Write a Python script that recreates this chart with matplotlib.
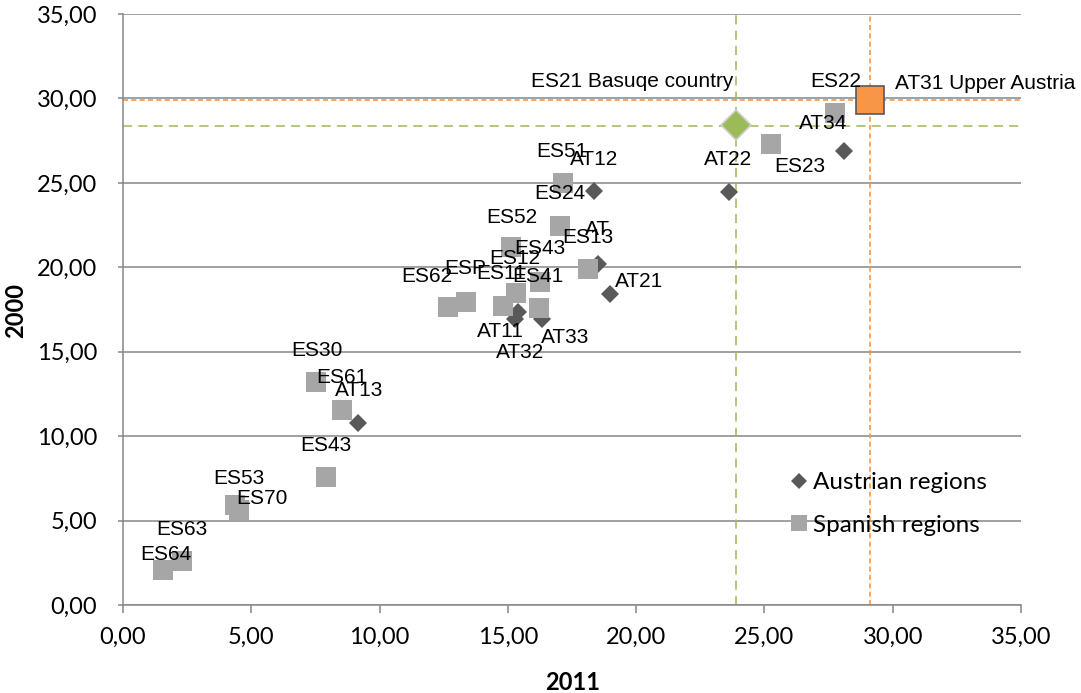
import matplotlib
matplotlib.use("Agg")
import matplotlib.pyplot as plt
from matplotlib.ticker import FuncFormatter, MultipleLocator
from matplotlib.lines import Line2D

# ---------------- data ----------------
at_names = ["AT12", "AT", "AT21", "AT11", "AT32", "AT33", "AT13", "AT22", "AT34"]
at_2011 = [18.36, 18.51, 19.00, 15.40, 15.27, 16.33, 9.17, 23.60, 28.09]
at_2000 = [24.53, 20.18, 18.42, 17.38, 16.93, 16.94, 10.76, 24.48, 26.90]

es_names = ["ES51", "ES24", "ES52", "ES13", "ES43", "ES12", "ESP", "ES62", "ES11",
            "ES41", "ES30", "ES61", "ES43", "ES53", "ES70", "ES63", "ES64", "ES22", "ES23"]
es_2011 = [17.13, 17.02, 15.14, 18.12, 16.27, 15.31, 13.36, 12.67, 14.81,
           16.20, 7.52, 8.54, 7.90, 4.37, 4.52, 2.29, 1.55, 27.77, 25.24]
es_2000 = [24.98, 22.47, 21.19, 19.89, 19.15, 18.50, 17.97, 17.67, 17.73,
           17.58, 13.19, 11.55, 7.56, 5.92, 5.63, 2.62, 2.07, 29.13, 27.31]

basque_name = "ES21 Basuqe country"
basque_2011 = 23.90
basque_2000 = 28.45

upper_name = "AT31 Upper Austria"
upper_2011 = 29.12
upper_2000 = 29.92

x_label = "2011"
y_label = "2000"
legend_labels = ["Austrian regions", "Spanish regions"]

# ------------- layout (label text centres, data coords) -------------
at_label_pos = [(18.35, 26.40), (18.51, 22.26), (20.11, 19.15), (14.71, 16.19),
                (15.49, 14.95), (17.25, 15.86), (9.19, 12.70), (23.60, 26.40),
                (27.27, 28.50)]
es_label_pos = [(17.09, 26.85), (17.02, 24.39), (15.14, 22.97), (18.12, 21.78),
                (16.24, 21.09), (15.27, 20.54), (13.32, 19.95), (11.83, 19.45),
                (14.75, 19.65), (16.18, 19.45), (7.55, 15.07), (8.52, 13.49),
                (7.91, 9.42), (4.52, 7.51), (5.43, 6.28), (2.29, 4.50),
                (1.68, 3.00), (27.77, 31.00), (26.39, 25.97)]
basque_label_pos = (19.84, 31.00)
upper_label_pos = (30.07, 30.86)

# ---------------- style ----------------
C_AT = "#595959"
C_ES = "#A6A6A6"
C_OR = "#F79646"
C_GR = "#9BBB59"
C_GRID = "#868686"
TICK_FONT = ["Lato", "DejaVu Sans"]
LBL_FONT = ["Liberation Sans", "DejaVu Sans"]

W, H = 1081, 693
fig = plt.figure(figsize=(W / 100, H / 100), dpi=100)
L, R, B, T = 123, 1021, 605, 14
ax = fig.add_axes([L / W, 1 - B / H, (R - L) / W, (B - T) / H])

ax.set_xlim(0, 35)
ax.set_ylim(0, 35)
ax.xaxis.set_major_locator(MultipleLocator(5))
ax.yaxis.set_major_locator(MultipleLocator(5))
fmt = FuncFormatter(lambda v, p: f"{v:.2f}".replace(".", ","))
ax.xaxis.set_major_formatter(fmt)
ax.yaxis.set_major_formatter(fmt)

ax.grid(axis="y", color=C_GRID, linewidth=1.1, zorder=0)
ax.set_axisbelow(True)
for s in ["top", "right"]:
    ax.spines[s].set_visible(False)
for s in ["left", "bottom"]:
    ax.spines[s].set_color(C_GRID)
    ax.spines[s].set_linewidth(1.1)

ax.tick_params(axis="x", direction="out", length=6, width=1.1, color=C_GRID,
               pad=10, labelsize=17)
ax.tick_params(axis="y", direction="out", length=3.6, width=1.1, color=C_GRID,
               pad=15, labelsize=17)
for lab in ax.get_xticklabels() + ax.get_yticklabels():
    lab.set_family(TICK_FONT)

# reference lines
ax.axhline(upper_2000, color=C_OR, linestyle=(0, (3, 2)), linewidth=1.2, zorder=2)
ax.axvline(upper_2011, color=C_OR, linestyle=(0, (3, 2)), linewidth=1.2, zorder=2)
ax.axhline(basque_2000 - 0.1, color=C_GR, linestyle=(0, (6, 4)), linewidth=1.1, zorder=2)
ax.axvline(basque_2011, color=C_GR, linestyle=(0, (6, 4)), linewidth=1.1, zorder=2)

# points
ax.plot(at_2011, at_2000, linestyle="none", marker="D", markersize=9.2,
        color=C_AT, markeredgewidth=0, zorder=3)
ax.plot(es_2011, es_2000, linestyle="none", marker="s", markersize=14.5,
        color=C_ES, markeredgewidth=0, zorder=4)
ax.plot([basque_2011], [basque_2000], linestyle="none", marker="D", markersize=15,
        color=C_GR, markeredgecolor="#D0D0D0", markeredgewidth=1.2, zorder=5)
ax.plot([upper_2011], [upper_2000], linestyle="none", marker="s", markersize=20,
        color=C_OR, markeredgecolor="#595959", markeredgewidth=1.2, zorder=5)

# labels
for name, (tx, ty) in zip(at_names, at_label_pos):
    ax.text(tx, ty, name, ha="center", va="center", fontsize=15, family=LBL_FONT, zorder=6)
for name, (tx, ty) in zip(es_names, es_label_pos):
    ax.text(tx, ty, name, ha="center", va="center", fontsize=15, family=LBL_FONT, zorder=6)
ax.text(*basque_label_pos, basque_name, ha="center", va="center", fontsize=15,
        family=LBL_FONT, zorder=6)
ax.text(*upper_label_pos, upper_name, ha="left", va="center", fontsize=15,
        family=LBL_FONT, zorder=6, clip_on=False)

# axis titles
ax.set_xlabel(x_label, fontsize=17, fontweight="bold", family=TICK_FONT, va="center")
ax.set_ylabel(y_label, fontsize=17, fontweight="bold", family=TICK_FONT, va="center")
ax.xaxis.set_label_coords((572.7 - L) / (R - L), (B - 683) / (B - T))
ax.yaxis.set_label_coords((15.7 - L) / (R - L), (B - 310) / (B - T))

# legend
handles = [Line2D([], [], linestyle="none", marker="D", markersize=8, color=C_AT,
                  markeredgewidth=0),
           Line2D([], [], linestyle="none", marker="s", markersize=12, color=C_ES,
                  markeredgewidth=0)]
leg = ax.legend(handles, legend_labels, frameon=False, loc="upper left",
                bbox_to_anchor=((790 - L) / (R - L), (B - 472) / (B - T)),
                borderpad=0, borderaxespad=0, handlelength=0.7, handletextpad=0.25,
                labelspacing=0.9, prop={"family": TICK_FONT, "size": 17.5})
leg.set_zorder(7)

fig.savefig("out.png", dpi=100)
